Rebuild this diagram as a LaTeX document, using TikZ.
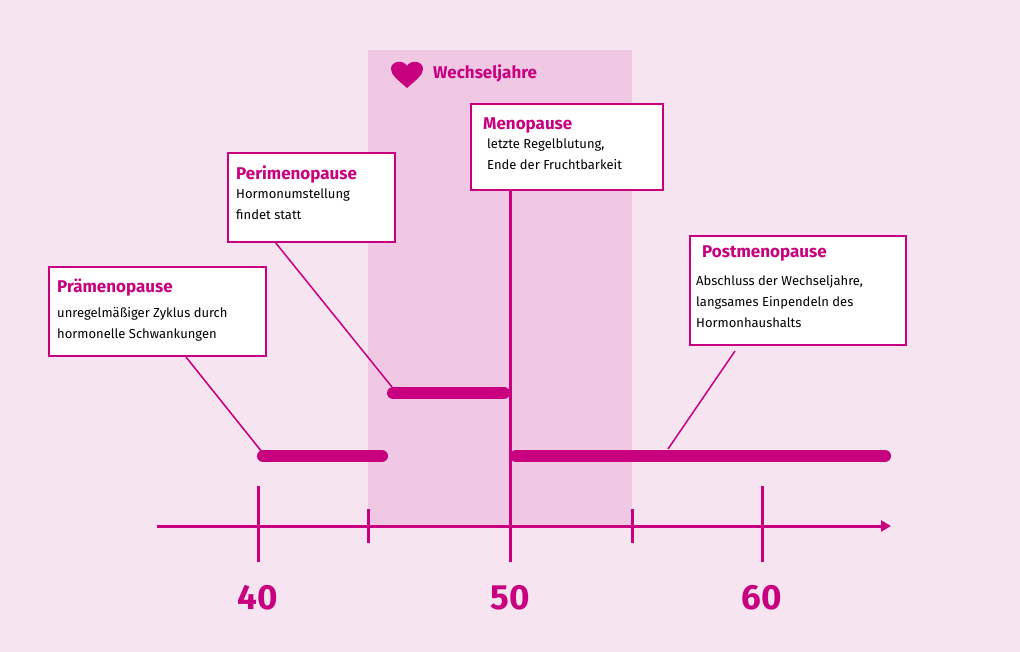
\documentclass[tikz,border=0pt]{standalone}
\usepackage{fontspec}
\setmainfont{Fira Sans}
\usetikzlibrary{arrows.meta}
\definecolor{bg}{HTML}{F6E4F0}
\definecolor{band}{HTML}{F1C8E3}
\definecolor{mag}{HTML}{C8007F}
\begin{document}
\begin{tikzpicture}[x=1pt,y=-1pt,
  box/.style={draw=mag,fill=white,line width=1.4pt},
  ttl/.style={anchor=north west,inner sep=0pt,text=mag,font=\bfseries\fontsize{17}{19}\selectfont},
  txt/.style={anchor=north west,inner sep=0pt,align=left,font=\fontsize{13}{21}\selectfont},
  bar/.style={mag,line width=12pt,line cap=round},
  ln/.style={mag,line width=1.5pt},
  tk/.style={mag,line width=3pt},
  num/.style={text=mag,font=\bfseries\fontsize{35}{38}\selectfont}]
\fill[bg] (0,0) rectangle (1020,652);
\fill[band] (368,50) rectangle (632,527);
% heart
\fill[mag] (407,88) .. controls (398,80) and (391,75) .. (391,69) .. controls (391,61) and (403,59) .. (407,66) .. controls (411,59) and (423,61) .. (423,69) .. controls (423,75) and (416,80) .. (407,88) -- cycle;
\node[anchor=west,inner sep=0pt,text=mag,font=\bfseries\fontsize{17}{19}\selectfont] (wj) at (433,73) {Wechseljahre};
% axis
\draw[tk,-{Triangle[length=10pt,width=11pt]}] (157,526) -- (891,526);
\foreach \x in {258,510,762} \draw[tk] (\x,486) -- (\x,562);
\foreach \x in {368,632} \draw[tk] (\x,509) -- (\x,543);
\node[num] (n40) at (258,598) {40};
\node[num] (n50) at (510,598) {50};
\node[num] (n60) at (762,598) {60};
% menopause line
\draw[mag,line width=3pt] (510,190) -- (510,526);
% bars
\draw[bar] (263,456) -- (382,456);
\draw[bar] (393,393) -- (504,393);
\draw[bar] (516,456) -- (885,456);
% leaders
\coordinate (p1) at (262,452); \coordinate (p2) at (392,387); \coordinate (p3) at (668,449);
\draw[ln] (186,357) -- (p1);
\draw[ln] (275,242) -- (p2);
\draw[ln] (735,351) -- (p3);
% boxes
\draw[box] (49,267) rectangle (266,356);
\node[ttl] (t1) at (57,279) {Prämenopause};
\node[txt] (d1) at (57,307) {unregelmäßiger Zyklus durch\\hormonelle Schwankungen};
\draw[box] (228,153) rectangle (395,242);
\node[ttl] (t2) at (236,166) {Perimenopause};
\node[txt] (d2) at (236,189) {Hormonumstellung\\findet statt};
\draw[box] (471,104) rectangle (663,190);
\node[ttl] (t3) at (483,118) {Menopause};
\node[txt] (d3) at (487,139) {letzte Regelblutung,\\Ende der Fruchtbarkeit};
\draw[box] (690,236) rectangle (906,345);
\node[ttl] (t4) at (702,246) {Postmenopause};
\node[txt] (d4) at (696,275) {Abschluss der Wechseljahre,\\langsames Einpendeln des\\Hormonhaushalts};
\end{tikzpicture}
\end{document}
